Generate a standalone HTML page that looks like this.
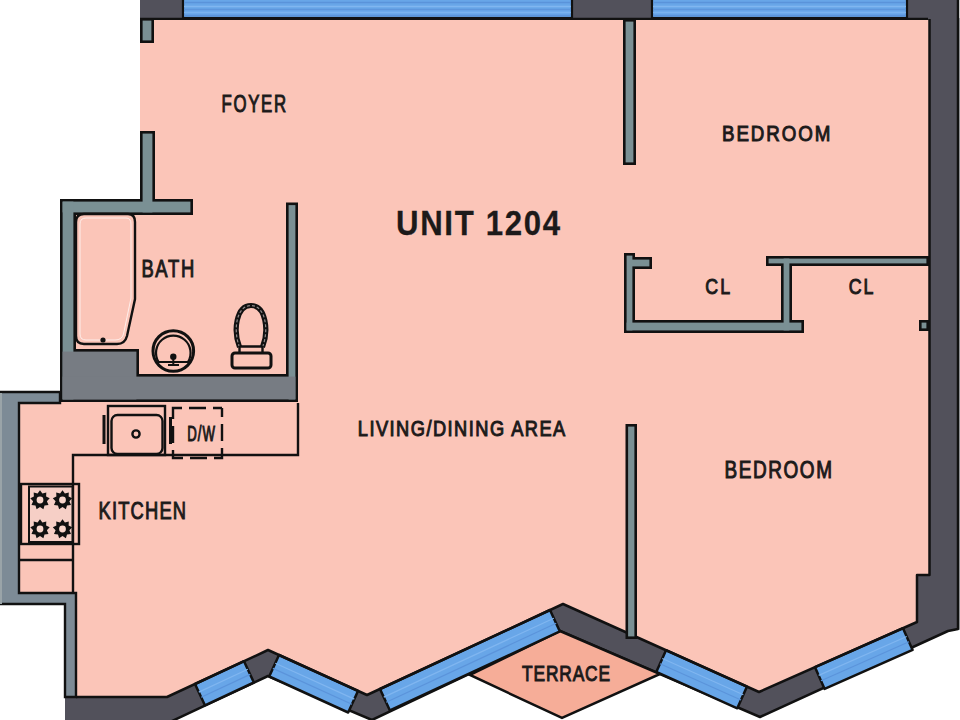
<!DOCTYPE html>
<html><head><meta charset="utf-8">
<style>
html,body{margin:0;padding:0;background:#fff;width:960px;height:720px;overflow:hidden}
svg{display:block}
text{font-family:"Liberation Sans",sans-serif;fill:#1c1a1a;stroke:#1c1a1a;stroke-width:1.05}
</style></head><body>
<svg width="960" height="720" viewBox="0 0 960 720">
<rect x="959" y="18" width="1" height="612" fill="#b9babc"/>
<polygon points="140,-5 958,-5 958,629 948,631 760,717 660,674 560,631 372,720 268,676 170,722 65,722 65,697 167,697 268,650 268,30 140,30" fill="#52515b"/>
<polyline points="958,-5 958,629 948,631 760,717 660,674 560,631 372,720 268,676 170,722" fill="none" stroke="#111" stroke-width="2.5" stroke-linejoin="round"/>
<polygon points="140,20 929,20 929,575 917,575 917,622 759,692 563,604 367,695 268,650 167,697 76,697 76,604 19,604 19,403 60,403 60,199 140,199" fill="#fbc5b8"/>
<polygon points="560,631 660,674 562,718 470,675" fill="#f6ad98" stroke="#111" stroke-width="2.5"/>
<polygon points="195.0,684.0 244.0,661.2 253.9,682.5 204.9,705.3" fill="#68a6e8" stroke="#111" stroke-width="2.5" stroke-linejoin="round"/><line x1="198.8" y1="692.1" x2="247.8" y2="669.3" stroke="#80b6f0" stroke-width="1.2"/><line x1="201.2" y1="697.2" x2="250.2" y2="674.4" stroke="#5b94db" stroke-width="1.2"/>
<polygon points="279.0,655.0 358.0,690.9 348.2,712.5 269.2,676.5" fill="#68a6e8" stroke="#111" stroke-width="2.5" stroke-linejoin="round"/><line x1="275.3" y1="663.2" x2="354.3" y2="699.1" stroke="#80b6f0" stroke-width="1.2"/><line x1="272.9" y1="668.4" x2="351.9" y2="704.3" stroke="#5b94db" stroke-width="1.2"/>
<polygon points="380.0,689.0 550.0,610.0 559.9,631.4 389.9,710.4" fill="#68a6e8" stroke="#111" stroke-width="2.5" stroke-linejoin="round"/><line x1="383.8" y1="697.1" x2="553.8" y2="618.2" stroke="#80b6f0" stroke-width="1.2"/><line x1="386.2" y1="702.2" x2="556.2" y2="623.3" stroke="#5b94db" stroke-width="1.2"/>
<polygon points="666.0,650.2 747.0,686.6 737.3,708.3 656.3,671.9" fill="#68a6e8" stroke="#111" stroke-width="2.5" stroke-linejoin="round"/><line x1="662.3" y1="658.5" x2="743.3" y2="694.8" stroke="#80b6f0" stroke-width="1.2"/><line x1="660.0" y1="663.7" x2="741.0" y2="700.0" stroke="#5b94db" stroke-width="1.2"/>
<polygon points="815.0,667.2 903.0,628.2 912.6,649.9 824.6,688.9" fill="#68a6e8" stroke="#111" stroke-width="2.5" stroke-linejoin="round"/><line x1="818.7" y1="675.4" x2="906.7" y2="636.5" stroke="#80b6f0" stroke-width="1.2"/><line x1="821.0" y1="680.7" x2="909.0" y2="641.7" stroke="#5b94db" stroke-width="1.2"/>
<polyline points="76,697 167,697 268,650 367,695 563,604 759,692 917,622 917,575 929.5,575 929.5,19" fill="none" stroke="#111" stroke-width="2.5" stroke-linejoin="round"/>
<rect x="183" y="-2" width="389" height="20" fill="#68a6e8" stroke="#111" stroke-width="2.2"/>
<rect x="652" y="-2" width="255" height="20" fill="#68a6e8" stroke="#111" stroke-width="2.2"/>
<line x1="184" y1="2.5" x2="571" y2="2.5" stroke="#5a93da" stroke-width="1.3"/>
<line x1="653" y1="2.5" x2="906" y2="2.5" stroke="#5a93da" stroke-width="1.3"/>
<line x1="184" y1="6.5" x2="571" y2="6.5" stroke="#80b6f0" stroke-width="1.3"/>
<line x1="653" y1="6.5" x2="906" y2="6.5" stroke="#80b6f0" stroke-width="1.3"/>
<line x1="184" y1="9.5" x2="571" y2="9.5" stroke="#5e96dc" stroke-width="1.3"/>
<line x1="653" y1="9.5" x2="906" y2="9.5" stroke="#5e96dc" stroke-width="1.3"/>
<line x1="184" y1="12.5" x2="571" y2="12.5" stroke="#7ab2ee" stroke-width="1.3"/>
<line x1="653" y1="12.5" x2="906" y2="12.5" stroke="#7ab2ee" stroke-width="1.3"/>
<line x1="184" y1="15.5" x2="571" y2="15.5" stroke="#5b94db" stroke-width="1.3"/>
<line x1="653" y1="15.5" x2="906" y2="15.5" stroke="#5b94db" stroke-width="1.3"/>
<line x1="140" y1="18.8" x2="928" y2="18.8" stroke="#111" stroke-width="2.2"/>
<g fill="#111"><rect x="140" y="18" width="14" height="25"/><rect x="140" y="131" width="15" height="84"/><rect x="60" y="199" width="133" height="16"/><rect x="60" y="199" width="16" height="203"/><rect x="286" y="202.5" width="12" height="199.5"/><rect x="60" y="349" width="79" height="53"/><rect x="60" y="374" width="238" height="28"/><rect x="623" y="19" width="13" height="146"/><rect x="624" y="253" width="11" height="80"/><rect x="624" y="320" width="180" height="13"/><rect x="627" y="257" width="25" height="12"/><rect x="781" y="256" width="11" height="77"/><rect x="766" y="256" width="163" height="10"/><rect x="919" y="320" width="10" height="11"/><rect x="625.5" y="424" width="11.5" height="215"/></g>
<g><rect x="142.6" y="20.6" width="8.8" height="19.8" fill="#7a9094"/><rect x="142.6" y="133.6" width="9.8" height="78.8" fill="#7a9094"/><rect x="62.6" y="201.6" width="127.8" height="10.8" fill="#7a9094"/><rect x="62.6" y="201.6" width="10.8" height="197.8" fill="#7a9094"/><rect x="288.6" y="205.1" width="6.8" height="194.3" fill="#7a9094"/><rect x="62.6" y="351.6" width="73.8" height="47.8" fill="#777c83"/><rect x="62.6" y="376.6" width="232.8" height="22.8" fill="#777c83"/><rect x="625.6" y="21.6" width="7.8" height="140.8" fill="#7a9094"/><rect x="626.6" y="255.6" width="5.8" height="74.8" fill="#7a9094"/><rect x="626.6" y="322.6" width="174.8" height="7.8" fill="#7a9094"/><rect x="629.6" y="259.6" width="19.8" height="6.8" fill="#7a9094"/><rect x="783.6" y="258.6" width="5.8" height="71.8" fill="#7a9094"/><rect x="768.6" y="258.6" width="157.8" height="4.8" fill="#7a9094"/><rect x="921.6" y="322.6" width="4.8" height="5.8" fill="#7a9094"/><rect x="628.1" y="426.6" width="6.3" height="209.8" fill="#7a9094"/></g>
<polygon points="0,392 60,392 60,403 19,403 19,593 76,593 76,697 65,697 65,604 0,604" fill="#7d8b96" stroke="#111" stroke-width="2.4" stroke-linejoin="miter"/>
<rect x="0" y="393" width="2" height="211" fill="#9aa4a8"/>
<polyline points="298,403 298,455 73,455 73,593" fill="none" stroke="#111" stroke-width="2.4"/>
<line x1="19" y1="560" x2="73" y2="560" fill="none" stroke="#111" stroke-width="2.4"/>
<rect x="108" y="406" width="57" height="49" fill="none" stroke="#111" stroke-width="2.4"/>
<rect x="111.5" y="415" width="51" height="39" rx="6" fill="none" stroke="#111" stroke-width="2.4"/>
<circle cx="136" cy="434" r="3.6" fill="none" stroke="#111" stroke-width="2.4"/>
<line x1="104" y1="415" x2="104" y2="444" stroke="#111" stroke-width="3"/>
<line x1="170.5" y1="417" x2="170.5" y2="444" stroke="#111" stroke-width="3"/>
<rect x="173" y="408" width="49" height="50" fill="none" stroke="#111" stroke-width="2.4" stroke-dasharray="9 7 17 7 9 0"/>
<rect x="21" y="484" width="58" height="60" fill="none" stroke="#111" stroke-width="2.4"/>
<rect x="29" y="486.5" width="43.5" height="55.5" fill="#f6cfc6" stroke="#111" stroke-width="2"/>
<polygon points="40.0,490.2 42.4,493.4 46.3,492.5 46.1,496.5 49.7,498.3 46.9,501.2 48.5,504.9 44.5,505.4 43.4,509.2 40.0,507.0 36.6,509.2 35.5,505.4 31.5,504.9 33.1,501.2 30.3,498.3 33.9,496.5 33.7,492.5 37.6,493.4" fill="#111"/><circle cx="40" cy="500" r="3.4" fill="#f9d6cc"/>
<polygon points="62.5,490.2 64.9,493.4 68.8,492.5 68.6,496.5 72.2,498.3 69.4,501.2 71.0,504.9 67.0,505.4 65.9,509.2 62.5,507.0 59.1,509.2 58.0,505.4 54.0,504.9 55.6,501.2 52.8,498.3 56.4,496.5 56.2,492.5 60.1,493.4" fill="#111"/><circle cx="62.5" cy="500" r="3.4" fill="#f9d6cc"/>
<polygon points="40.0,519.2 42.4,522.4 46.3,521.5 46.1,525.5 49.7,527.3 46.9,530.2 48.5,533.9 44.5,534.4 43.4,538.2 40.0,536.0 36.6,538.2 35.5,534.4 31.5,533.9 33.1,530.2 30.3,527.3 33.9,525.5 33.7,521.5 37.6,522.4" fill="#111"/><circle cx="40" cy="529" r="3.4" fill="#f9d6cc"/>
<polygon points="62.5,519.2 64.9,522.4 68.8,521.5 68.6,525.5 72.2,527.3 69.4,530.2 71.0,533.9 67.0,534.4 65.9,538.2 62.5,536.0 59.1,538.2 58.0,534.4 54.0,533.9 55.6,530.2 52.8,527.3 56.4,525.5 56.2,521.5 60.1,522.4" fill="#111"/><circle cx="62.5" cy="529" r="3.4" fill="#f9d6cc"/>
<path d="M76,222 Q76,214 84,214 L128,214 Q135,214 135,222 L135,299 L127,336 Q125,344 117,344 L84,344 Q76,344 76,336 Z" fill="none" stroke="#111" stroke-width="2.4"/>
<path d="M80,224 Q80,218 86,218 L126,218 Q131,218 131,224 L131,298 L123.5,334 Q122,340 115,340 L86,340 Q80,340 80,334 Z" fill="none" stroke="#fff" stroke-width="1" opacity="0.7"/>
<circle cx="103" cy="340" r="2.6" fill="#111"/>
<circle cx="173.3" cy="351" r="20.3" fill="none" stroke="#111" stroke-width="3"/>
<path d="M158.6,362 A17.3,17.3 0 1 1 188,362 Z" fill="none" stroke="#111" stroke-width="2.2"/>
<circle cx="173.3" cy="356.7" r="3.2" fill="#111"/>
<path d="M168,365 L179,365 M173.3,358 L173.3,366" stroke="#111" stroke-width="2"/>
<path d="M239.5,347 C233,331 236,305.5 251,305.5 C266,305.5 269,331 262.5,347" fill="none" stroke="#111" stroke-width="5.2"/>
<path d="M239.5,347 C233,331 236,305.5 251,305.5 C266,305.5 269,331 262.5,347" fill="none" stroke="#8f8a8a" stroke-width="1.2" stroke-dasharray="3 2"/>
<path d="M239.5,346.5 L262.5,346.5 M239.5,346 L239.5,352 M262.5,346 L262.5,352" stroke="#111" stroke-width="2.4"/>
<rect x="232" y="353" width="39" height="15" rx="3" fill="none" stroke="#111" stroke-width="3"/>
<g transform="translate(221.5,112.4) scale(0.72,1)"><text x="0" y="0" font-size="23.3" textLength="89.72" lengthAdjust="spacing">FOYER</text></g>
<g transform="translate(396,235.4) scale(0.9,1)"><text x="0" y="0" font-size="34.6" textLength="182.44" lengthAdjust="spacing" style="font-weight:bold;stroke-width:0.3">UNIT 1204</text></g>
<g transform="translate(722,140.5) scale(0.84,1)"><text x="0" y="0" font-size="22.3" textLength="129.05" lengthAdjust="spacing">BEDROOM</text></g>
<g transform="translate(724.4,477.7) scale(0.79,1)"><text x="0" y="0" font-size="24" textLength="136.20" lengthAdjust="spacing">BEDROOM</text></g>
<g transform="translate(141.4,276.9) scale(0.75,1)"><text x="0" y="0" font-size="24.5" textLength="70.40" lengthAdjust="spacing">BATH</text></g>
<g transform="translate(705.2,294.3) scale(0.78,1)"><text x="0" y="0" font-size="22.8" textLength="32.05" lengthAdjust="spacing">CL</text></g>
<g transform="translate(848.8,294.3) scale(0.78,1)"><text x="0" y="0" font-size="22.8" textLength="31.67" lengthAdjust="spacing">CL</text></g>
<g transform="translate(357.8,435.5) scale(0.84,1)"><text x="0" y="0" font-size="21.7" textLength="246.90" lengthAdjust="spacing">LIVING/DINING AREA</text></g>
<g transform="translate(98.6,519.3) scale(0.75,1)"><text x="0" y="0" font-size="24.4" textLength="116.53" lengthAdjust="spacing">KITCHEN</text></g>
<g transform="translate(187.2,440.6) scale(0.6,1)"><text x="0" y="0" font-size="22" textLength="46.33" lengthAdjust="spacing" style="stroke-width:1.1">D/W</text></g>
<g transform="translate(522,681) scale(0.77,1)"><text x="0" y="0" font-size="22.5" textLength="114.29" lengthAdjust="spacing">TERRACE</text></g>
</svg>
</body></html>
